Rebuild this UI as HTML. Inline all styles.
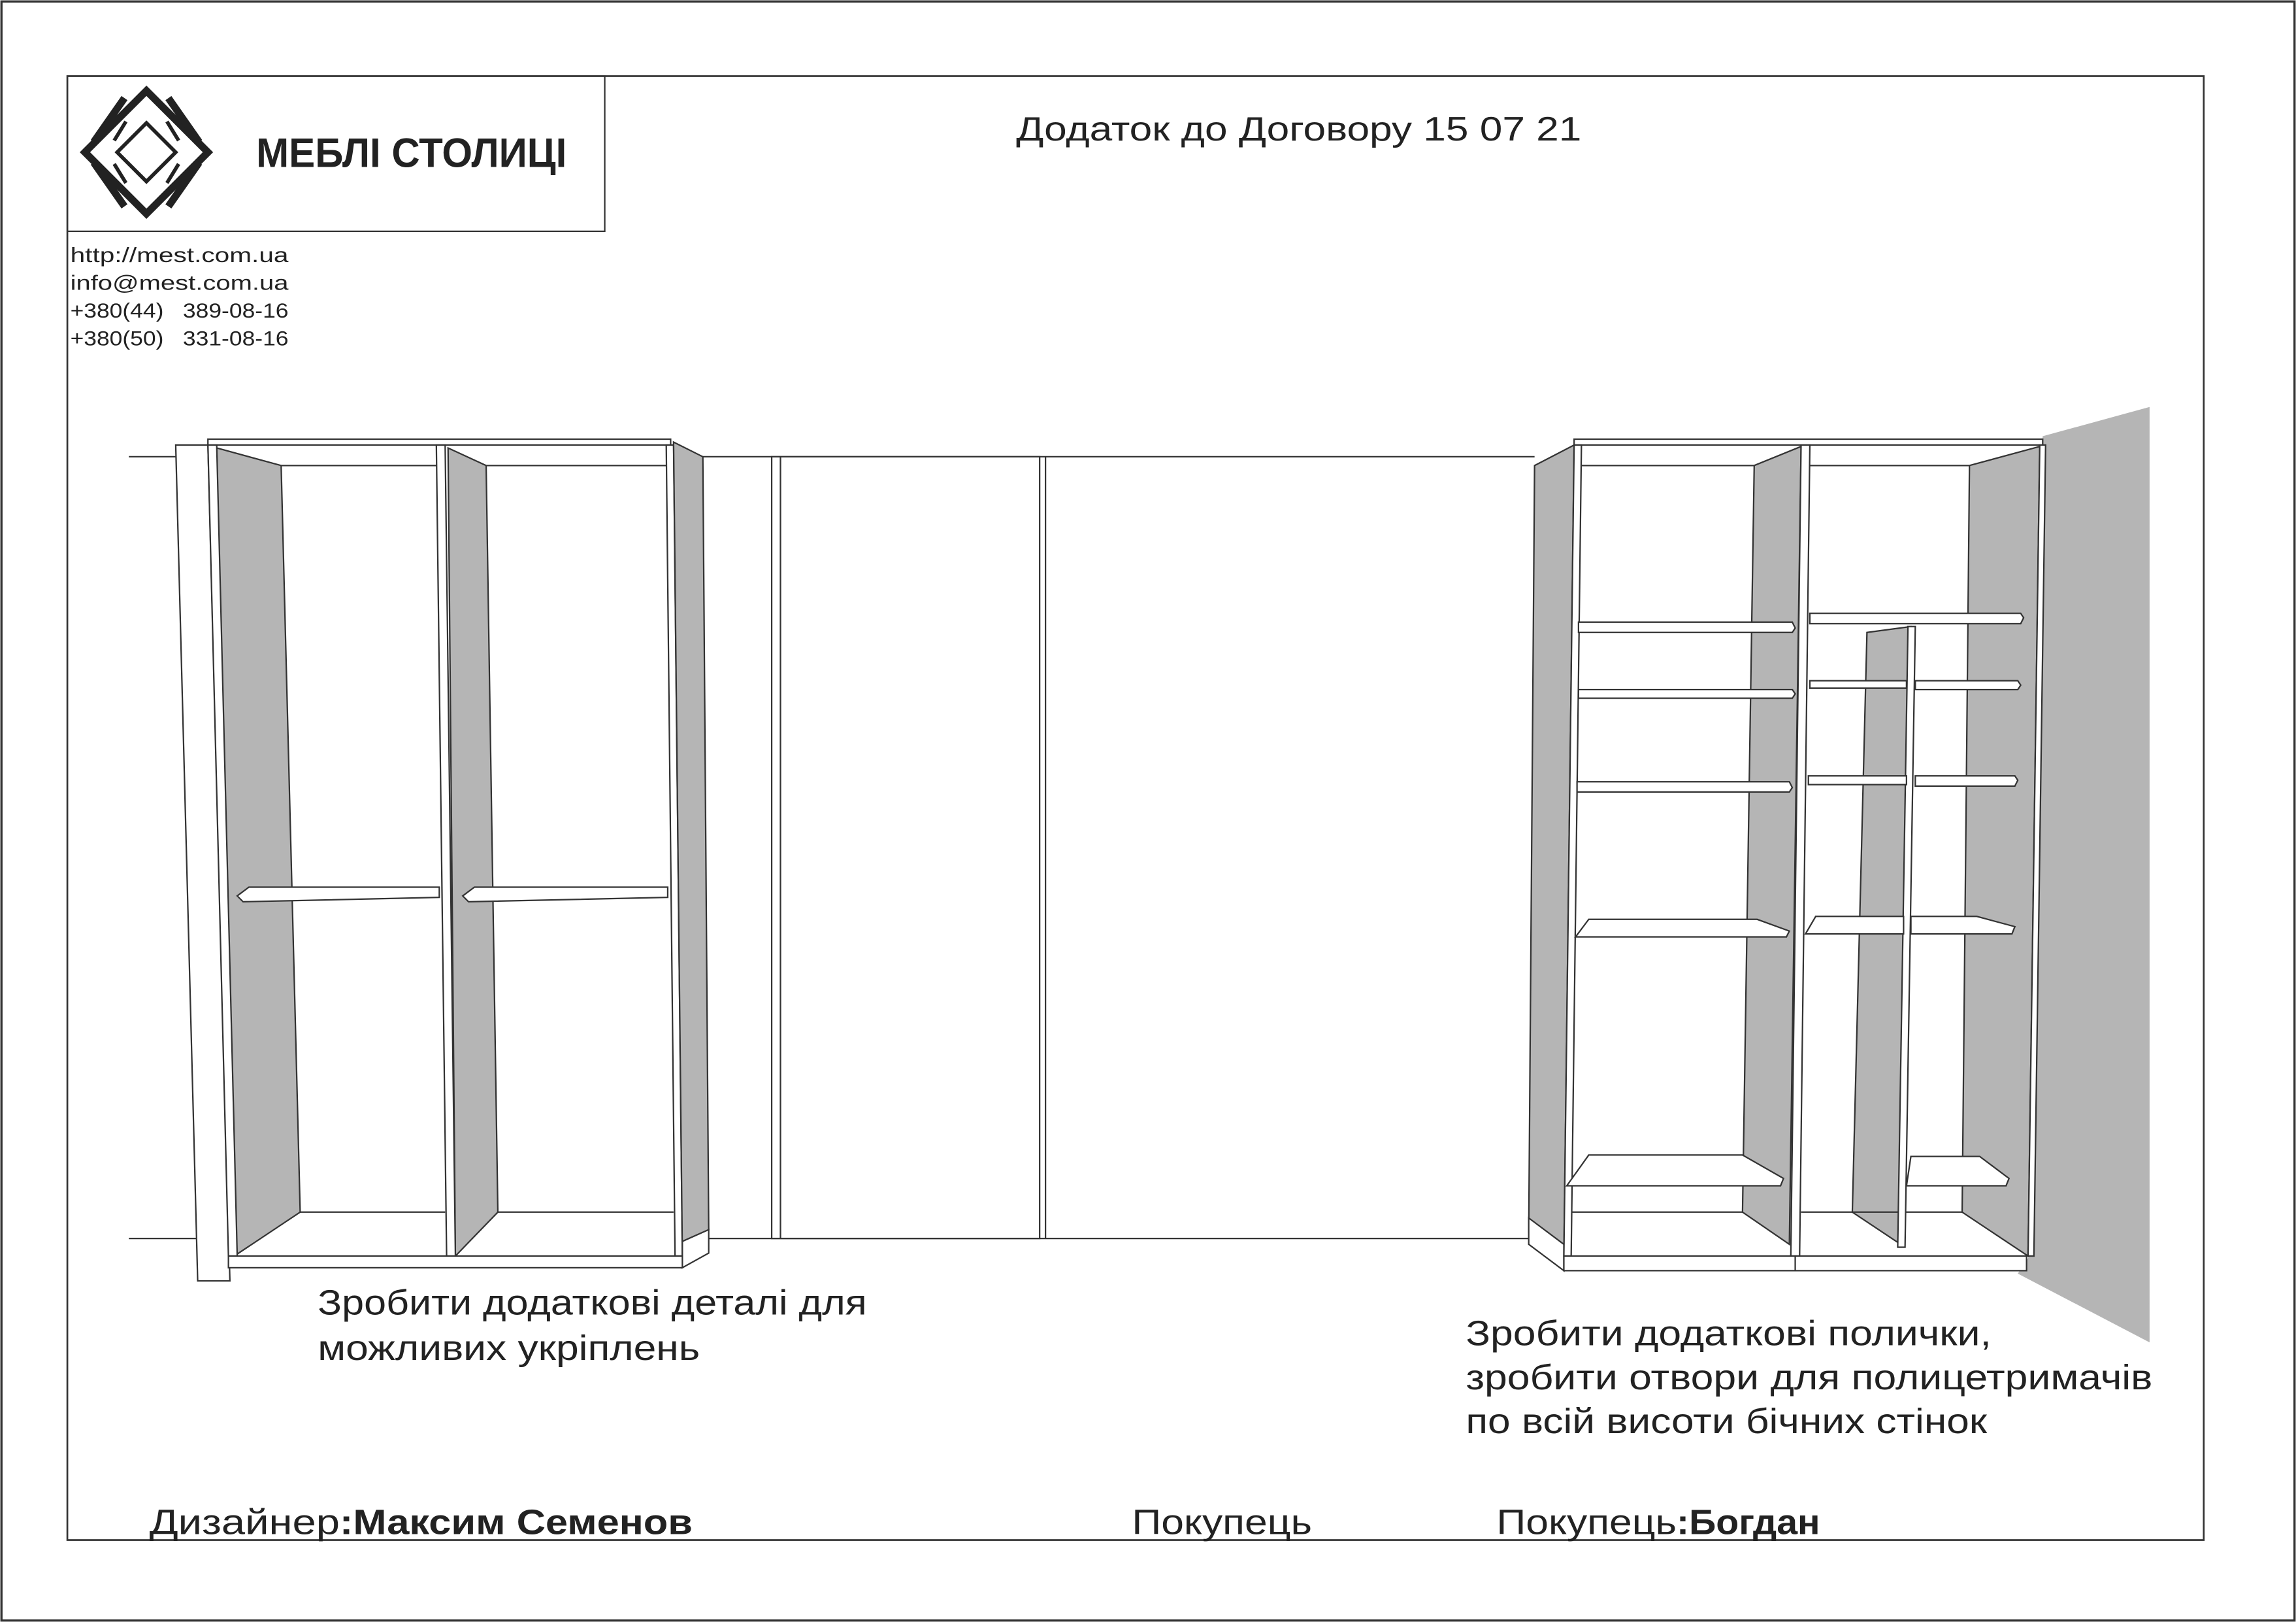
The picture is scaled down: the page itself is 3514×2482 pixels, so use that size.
<!DOCTYPE html>
<html><head><meta charset="utf-8"><style>
html,body{margin:0;padding:0;background:#fff}
svg{display:block}
text{font-family:"Liberation Sans",sans-serif;fill:#222}
</style></head><body>
<svg width="3514" height="2482" viewBox="0 0 1568 1108" preserveAspectRatio="none" xmlns="http://www.w3.org/2000/svg">
<rect x="1" y="1" width="1566" height="1106" fill="#fff" stroke="#333" stroke-width="1.5"/>
<rect x="46" y="52" width="1459" height="1000" fill="none" stroke="#333" stroke-width="1.2"/>
<rect x="46" y="52" width="367" height="106" fill="none" stroke="#333" stroke-width="1"/>
<!-- logo -->
<g fill="none" stroke="#222">
<polygon points="100,62 142,104 100,146 58,104" stroke-width="5"/>
<polygon points="100,84 120,104 100,124 80,104" stroke-width="2.5"/>
<line x1="86" y1="83" x2="78" y2="96" stroke-width="2.5"/>
<line x1="114" y1="83" x2="122" y2="96" stroke-width="2.5"/>
<line x1="86" y1="125" x2="78" y2="112" stroke-width="2.5"/>
<line x1="114" y1="125" x2="122" y2="112" stroke-width="2.5"/>
<line x1="85" y1="67" x2="64" y2="97" stroke-width="5"/>
<line x1="115" y1="67" x2="136" y2="97" stroke-width="5"/>
<line x1="85" y1="141" x2="64" y2="111" stroke-width="5"/>
<line x1="115" y1="141" x2="136" y2="111" stroke-width="5"/>
</g>
<text x="175" y="114" font-size="28" font-weight="bold" textLength="212" lengthAdjust="spacingAndGlyphs">МЕБЛІ СТОЛИЦІ</text>
<g font-size="14">
<text x="48" y="179" textLength="149" lengthAdjust="spacingAndGlyphs">http://mest.com.ua</text>
<text x="48" y="198" textLength="149" lengthAdjust="spacingAndGlyphs">info@mest.com.ua</text>
<text x="48" y="217" textLength="149" lengthAdjust="spacingAndGlyphs" xml:space="preserve">+380(44)   389-08-16</text>
<text x="48" y="236" textLength="149" lengthAdjust="spacingAndGlyphs" xml:space="preserve">+380(50)   331-08-16</text>
</g>
<text x="694" y="96" font-size="23" textLength="386" lengthAdjust="spacingAndGlyphs">Додаток до Договору 15 07 21</text>

<g stroke="#333" stroke-width="1" fill="#fff">
<line x1="88" y1="312" x2="120" y2="312"/>
<line x1="88" y1="846" x2="135" y2="846"/>
<line x1="480" y1="312" x2="1048" y2="312"/>
<line x1="484" y1="846" x2="1046" y2="846"/>
<rect x="527" y="312" width="183" height="534"/>
<line x1="533" y1="312" x2="533" y2="846"/>
<line x1="714" y1="312" x2="714" y2="846"/>

<!-- LEFT cabinet -->
<polygon points="120,304 142,304 157,875 135,875"/>
<rect x="142" y="300" width="316" height="4"/>
<polygon points="148,306 192,318 205,828 160,858" fill="#b5b5b5"/>
<line x1="192" y1="318" x2="298" y2="318"/>
<line x1="205" y1="828" x2="304" y2="828"/>
<polygon points="306,306 332,318 340,828 311,858" fill="#b5b5b5"/>
<line x1="332" y1="318" x2="455" y2="318"/>
<line x1="340" y1="828" x2="460" y2="828"/>
<polygon points="142,304 148,304 162,858 156,858"/>
<polygon points="298,304 304,304 311,858 305,858"/>
<polygon points="455,304 460,304 466,858 461,858"/>
<polygon points="460,302 480,312 484,840 466,858" fill="#b5b5b5"/>
<polygon points="466,848 484,840 484,856 466,866"/>
<rect x="156" y="858" width="310" height="8"/>
<polygon points="170,606 300,606 300,613 166,616 162,612"/>
<polygon points="324,606 456,606 456,613 320,616 316,612"/>

<!-- RIGHT cabinet -->
<polygon points="1395,298 1468,278 1468,917 1378,870 1386,858" fill="#b5b5b5" stroke="none"/>
<polygon points="1048,318 1075,304 1068,858 1044,842" fill="#b5b5b5"/>
<polygon points="1044,832 1068,850 1068,868 1044,850"/>
<rect x="1075" y="300" width="320" height="4"/>
<polygon points="1198,318 1230,305 1222,850 1190,828" fill="#b5b5b5"/>
<polygon points="1345,318 1393,305 1385,858 1340,828" fill="#b5b5b5"/>
<polygon points="1275,432 1305,428 1298,850 1265,828" fill="#b5b5b5"/>
<line x1="1080" y1="318" x2="1198" y2="318"/>
<line x1="1236" y1="318" x2="1345" y2="318"/>
<line x1="1070" y1="828" x2="1190" y2="828"/>
<line x1="1230" y1="828" x2="1340" y2="828"/>
<polygon points="1075,304 1080,304 1073,858 1068,858"/>
<polygon points="1230,304 1236,304 1229,858 1223,858"/>
<polygon points="1303,428 1308,428 1301,852 1296,852"/>
<polygon points="1393,304 1397,304 1389,858 1385,858"/>
<rect x="1068" y="858" width="316" height="10"/>
<line x1="1226" y1="858" x2="1226" y2="868"/>
<polygon points="1078,425 1224,425 1226,429 1224,432 1078,432"/>
<polygon points="1078,471 1224,471 1226,474 1224,477 1078,477"/>
<polygon points="1077,534 1222,534 1224,538 1222,541 1077,541"/>
<polygon points="1085,628 1200,628 1222,636 1220,640 1076,640"/>
<polygon points="1085,789 1190,789 1218,805 1216,810 1070,810"/>
<polygon points="1236,419 1380,419 1382,422 1380,426 1236,426"/>
<polygon points="1236,465 1302,465 1302,470 1236,470"/>
<polygon points="1308,465 1378,465 1380,468 1378,471 1308,471"/>
<polygon points="1235,530 1302,530 1302,536 1235,536"/>
<polygon points="1308,530 1376,530 1378,533 1376,537 1308,537"/>
<polygon points="1240,626 1300,626 1300,638 1233,638"/>
<polygon points="1305,626 1350,626 1376,633 1374,638 1305,638"/>
<polygon points="1305,790 1352,790 1372,805 1370,810 1302,810"/>
</g>

<g font-size="24">
<text x="217" y="898" textLength="375" lengthAdjust="spacingAndGlyphs">Зробити додаткові деталі для</text>
<text x="217" y="929" textLength="261" lengthAdjust="spacingAndGlyphs">можливих укріплень</text>
<text x="1001" y="919" textLength="359" lengthAdjust="spacingAndGlyphs">Зробити додаткові полички,</text>
<text x="1001" y="949" textLength="469" lengthAdjust="spacingAndGlyphs">зробити отвори для полицетримачів</text>
<text x="1001" y="979" textLength="356" lengthAdjust="spacingAndGlyphs">по всій висоти бічних стінок</text>
<text x="102" y="1048" textLength="130" lengthAdjust="spacingAndGlyphs">Дизайнер</text>
<text x="232" y="1048" font-weight="bold" textLength="241" lengthAdjust="spacingAndGlyphs">:Максим Семенов</text>
<text x="773" y="1048" textLength="123" lengthAdjust="spacingAndGlyphs">Покупець</text>
<text x="1022" y="1048" textLength="123" lengthAdjust="spacingAndGlyphs">Покупець</text>
<text x="1145" y="1048" font-weight="bold" textLength="98" lengthAdjust="spacingAndGlyphs">:Богдан</text>
</g>
</svg>
</body></html>
